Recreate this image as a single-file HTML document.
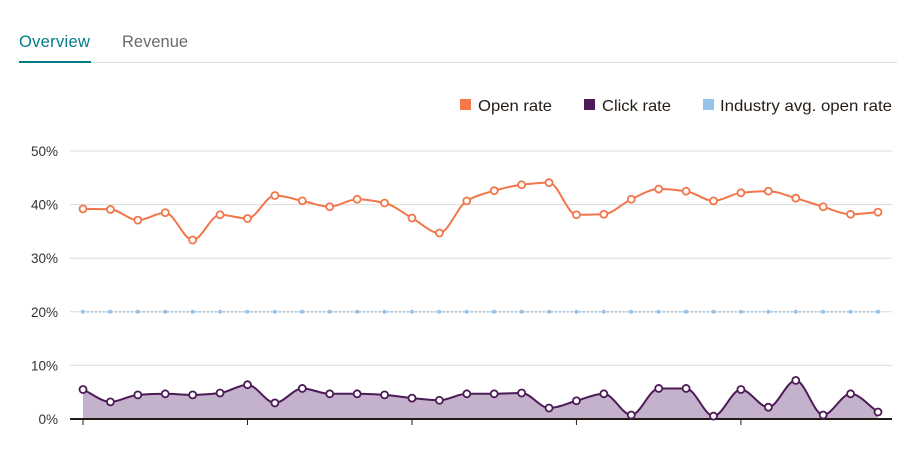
<!DOCTYPE html>
<html><head><meta charset="utf-8">
<style>
body{margin:0;width:919px;height:460px;background:#fff;font-family:"Liberation Sans",sans-serif;overflow:hidden;position:relative}
.tab{position:absolute;top:33px;font-size:16.5px}
</style></head><body>
<div class="tab" style="left:19px;color:#007c89;letter-spacing:0.3px">Overview</div>
<div class="tab" style="left:122px;color:#6b6b6b">Revenue</div>
<div style="position:absolute;left:19px;top:62px;width:878px;height:1px;background:#ddd"></div>
<div style="position:absolute;left:19px;top:61px;width:72px;height:2px;background:#007c89"></div>
<svg id="chart" width="919" height="460" style="position:absolute;left:0;top:0" font-family="Liberation Sans, sans-serif">
<g font-size="16" fill="#241c15">
<rect x="460" y="99" width="11" height="11" fill="#f6774a"/>
<text x="478" y="111" textLength="74" lengthAdjust="spacingAndGlyphs">Open rate</text>
<rect x="584" y="99" width="11" height="11" fill="#4b1a57"/>
<text x="602" y="111" textLength="69" lengthAdjust="spacingAndGlyphs">Click rate</text>
<rect x="703" y="99" width="11" height="11" fill="#97c3eb"/>
<text x="720" y="111" textLength="172" lengthAdjust="spacingAndGlyphs">Industry avg. open rate</text>
</g>
</svg>
<script>
const openRate=[39.2,39.1,37.1,38.5,33.4,38.1,37.4,41.7,40.7,39.6,41.0,40.3,37.5,34.7,40.7,42.6,43.7,44.1,38.1,38.2,41.0,42.9,42.5,40.7,42.2,42.5,41.2,39.6,38.2,38.6];
const clickRate=[5.5,3.2,4.5,4.7,4.5,4.85,6.4,3.0,5.7,4.7,4.7,4.5,3.9,3.5,4.7,4.7,4.85,2.05,3.4,4.7,0.75,5.7,5.7,0.55,5.5,2.2,7.2,0.75,4.7,1.3];
const industryRate=[20,20,20,20,20,20,20,20,20,20,20,20,20,20,20,20,20,20,20,20,20,20,20,20,20,20,20,20,20,20];
const yTicks=[0,10,20,30,40,50];
const NS="http://www.w3.org/2000/svg";
const svg=document.getElementById('chart');
const x=i=>83+i*(795/29);
const y=v=>419-v*5.36;
function mk(t,a,p){const e=document.createElementNS(NS,t);for(const k in a)e.setAttribute(k,a[k]);(p||svg).appendChild(e);return e;}
function mono(pts){
  const n=pts.length,d=[],m=[];
  for(let i=0;i<n-1;i++)d.push((pts[i+1][1]-pts[i][1])/(pts[i+1][0]-pts[i][0]));
  m[0]=d[0];m[n-1]=d[n-2];
  for(let i=1;i<n-1;i++)m[i]=(d[i-1]*d[i]<=0)?0:(2*d[i-1]*d[i])/(d[i-1]+d[i]);
  let s='M'+pts[0][0]+','+pts[0][1];
  for(let i=0;i<n-1;i++){const h=(pts[i+1][0]-pts[i][0])/3;
    s+=`C${pts[i][0]+h},${pts[i][1]+m[i]*h} ${pts[i+1][0]-h},${pts[i+1][1]-m[i+1]*h} ${pts[i+1][0]},${pts[i+1][1]}`;}
  return s;
}
yTicks.forEach(t=>{
  if(t>0){const g=mk('line',{x1:70,x2:892,y1:y(t),y2:y(t),stroke:'#dcdcdc','stroke-width':1});
  
  }
  const l=mk('text',{x:58,y:y(t)+5,'text-anchor':'end','font-size':13.5,fill:'#333'});
  l.textContent=t+'%';
  
  
});
const cp=clickRate.map((v,i)=>[x(i),y(v)]);
const area=mk('path',{d:mono(cp)+`L${x(29)},${y(0)}L${x(0)},${y(0)}Z`,fill:'#c4b1cb'});


const base=mk('line',{x1:70,x2:892,y1:419,y2:419,stroke:'#241c15','stroke-width':2});


for(let i=0;i<30;i+=6){const tk=mk('line',{x1:x(i),x2:x(i),y1:419,y2:425,stroke:'#241c15','stroke-width':1});

}
const ip=industryRate.map((v,i)=>[x(i),y(v)]);
const il=mk('path',{d:mono(ip),fill:'none',stroke:'#97c3eb','stroke-width':1.8,'stroke-dasharray':'1.5,2.5'});


ip.forEach(p=>{const c=mk('circle',{cx:p[0],cy:p[1],r:2,fill:'#97c3eb'});

});
const cl=mk('path',{d:mono(cp),fill:'none',stroke:'#4b1a57','stroke-width':2});


cp.forEach(p=>{const c=mk('circle',{cx:p[0],cy:p[1],r:3.5,fill:'#fff',stroke:'#4b1a57','stroke-width':1.8});

});
const op=openRate.map((v,i)=>[x(i),y(v)]);
const ol=mk('path',{d:mono(op),fill:'none',stroke:'#f2764a','stroke-width':2});


op.forEach(p=>{const c=mk('circle',{cx:p[0],cy:p[1],r:3.5,fill:'#fff',stroke:'#f2764a','stroke-width':1.8});

});
</script>
</body></html>
